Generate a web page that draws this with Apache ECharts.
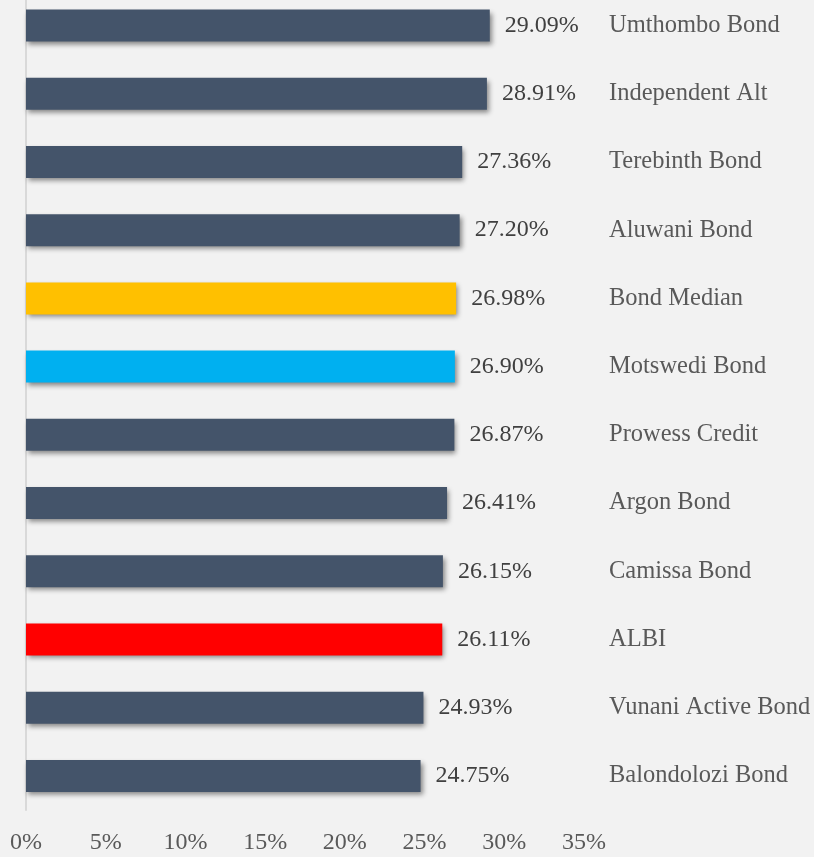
<!DOCTYPE html>
<html>
<head>
<meta charset="utf-8">
<script src="https://cdn.jsdelivr.net/npm/echarts@6/dist/echarts.min.js"></script>
<style>
  html, body {margin: 0; padding: 0; background: #f2f2f2; overflow: hidden;}
  #chart {width: 814px; height: 857px;}
</style>
</head>
<body>
<div id="chart"></div>
<script>
// fund names, bottom to top as ECharts draws a category y axis
const categories = ['Balondolozi Bond', 'Vunani Active Bond', 'ALBI', 'Camissa Bond', 'Argon Bond',
  'Prowess Credit', 'Motswedi Bond', 'Bond Median', 'Aluwani Bond', 'Terebinth Bond',
  'Independent Alt', 'Umthombo Bond'];
const values = [24.75, 24.93, 26.11, 26.15, 26.41, 26.87, 26.90, 26.98, 27.20, 27.36, 28.91, 29.09];
const barColors = ['#44546a', '#44546a', '#ff0000', '#44546a', '#44546a',
  '#44546a', '#00b0f0', '#ffc000', '#44546a', '#44546a', '#44546a', '#44546a'];

const FONT = 'Liberation Serif';

const chart = echarts.init(document.getElementById('chart'));

chart.setOption({
  backgroundColor: '#f2f2f2',
  animation: false,
  // plot starts a bit above the top edge and labels may touch the right edge, like the original
  grid: {left: 26, right: 230, top: -8.6, bottom: 47, containLabel: false, outerBoundsMode: 'none'},
  xAxis: {
    type: 'value',
    min: 0,
    max: 35,
    interval: 5,
    axisLine: {show: false},
    axisTick: {show: false},
    splitLine: {show: false},
    axisLabel: {
      color: '#595959',
      fontFamily: FONT,
      fontSize: 24,
      margin: 21,
      formatter: '{value}%'
    }
  },
  yAxis: [{
    type: 'category',
    data: categories,
    position: 'left',
    axisLine: {show: true, lineStyle: {color: '#d9d9d9', width: 2}},
    axisTick: {show: false},
    axisLabel: {show: false}
  }, {
    type: 'category',
    data: categories,
    position: 'right',
    axisLine: {show: false},
    axisTick: {show: false},
    axisLabel: {
      color: '#595959',
      fontFamily: FONT,
      fontSize: 24.5,
      margin: 25,
      align: 'left'
    }
  }],
  series: [{
    type: 'bar',
    barWidth: 32,
    data: values.map((v, i) => ({value: v, itemStyle: {color: barColors[i]}})),
    itemStyle: {
      shadowColor: 'rgba(0,0,0,0.45)',
      shadowBlur: 5,
      shadowOffsetX: 2,
      shadowOffsetY: 3
    },
    label: {
      show: true,
      position: 'right',
      distance: 15,
      color: '#404040',
      fontFamily: FONT,
      fontSize: 24,
      formatter: p => p.value.toFixed(2) + '%'
    }
  }]
});
</script>
</body>
</html>
